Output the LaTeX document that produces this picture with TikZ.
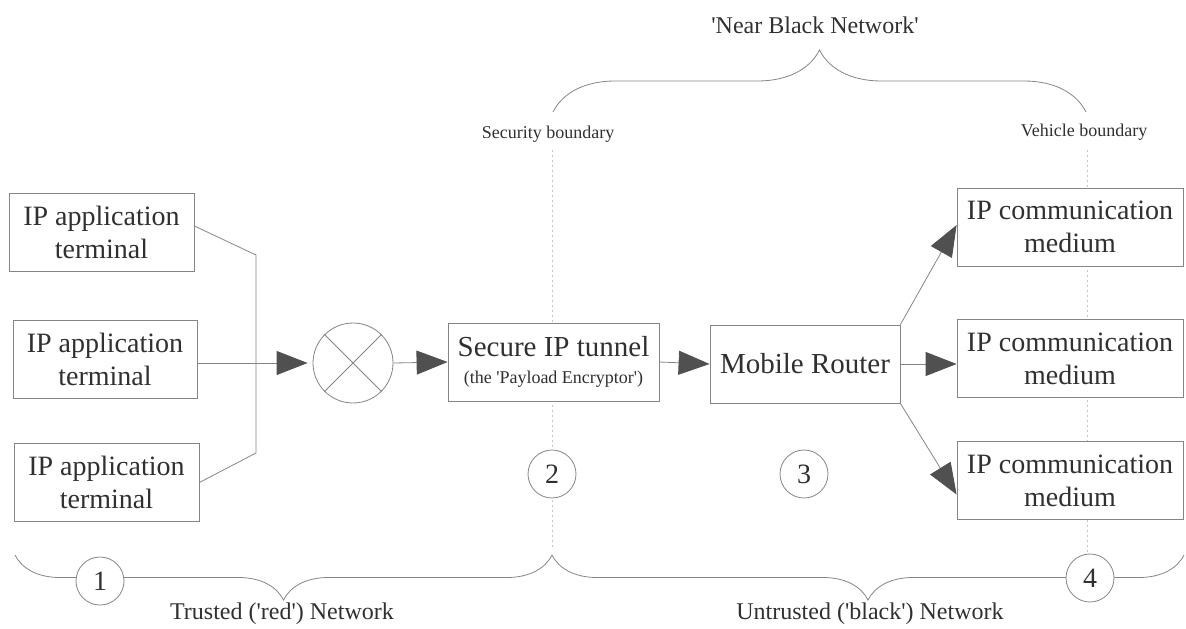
\documentclass[tikz,border=0pt]{standalone}
\usepackage{fontspec}
\setmainfont{Liberation Serif}
\usetikzlibrary{arrows.meta,decorations.pathreplacing,calc}
\definecolor{ink}{HTML}{303030}
\definecolor{wire}{HTML}{858585}
\definecolor{tipfill}{HTML}{505050}
\definecolor{dotline}{HTML}{C4C4C4}

\begin{document}
\begin{tikzpicture}[x=1pt,y=-1pt,
  every node/.style={text=ink},
  blk/.style={draw=wire,line width=0.8pt,fill=white,align=center,inner sep=0pt,
    minimum height=78pt},
  big/.style={font=\fontsize{28}{33}\selectfont},
  wirel/.style={draw=wire,line width=0.8pt},
  flow/.style={wirel,-{Triangle[length=31pt,width=24pt,color=tipfill,fill=tipfill]}},
  numc/.style={circle,draw=wire,line width=0.8pt,fill=white,minimum size=48pt,
    inner sep=0pt,font=\fontsize{28}{28}\selectfont},
  bracel/.style={draw=wire,line width=0.8pt,decorate},
  boundary/.style={draw=dotline,line width=0.8pt,dash pattern=on 2pt off 3pt},
  note/.style={inner sep=0pt}
]
\useasboundingbox (0,0) rectangle (1186,629);

% boundary lines (behind everything else)
\coordinate (sbTop) at (552,150);
\coordinate (sbBot) at (552,548);
\coordinate (vbTop) at (1087,150);
\coordinate (vbBot) at (1087,556);
\draw[boundary] (sbTop) -- (sbBot);
\draw[boundary] (vbTop) -- (vbBot);

% braces
\coordinate (bL) at (15,555);
\coordinate (bM) at (552,555);
\coordinate (bR) at (1184,555);
\coordinate (tL) at (553,112);
\coordinate (tR) at (1086,112);
\draw[bracel,decoration={brace,mirror,amplitude=45pt}] (bL) -- (bM);
\draw[bracel,decoration={brace,mirror,amplitude=45pt}] (bM) -- (bR);
\draw[bracel,decoration={brace,amplitude=62pt}] (tL) -- (tR);

% application terminals
\node[blk,big,minimum width=185pt] (app1) at (101.5,232) {IP application\\terminal};
\node[blk,big,minimum width=184pt] (app2) at (105,359.5) {IP application\\terminal};
\node[blk,big,minimum width=185pt] (app3) at (106.5,482.5) {IP application\\terminal};

% multiplexer
\node[circle,draw=wire,line width=0.8pt,fill=white,minimum size=80pt,inner sep=0pt] (mux) at (353,363) {};
\draw[wirel] (mux.45) -- (mux.225);
\draw[wirel] (mux.135) -- (mux.315);

% tunnel and router
\node[blk,minimum width=211pt,font=\fontsize{29}{27}\selectfont] (tun) at (553.5,362)
  {Secure IP tunnel\\
   \fontsize{18}{27}\selectfont (the \textquotesingle Payload Encryptor\textquotesingle)};
\node[blk,minimum width=190pt,font=\fontsize{29}{29}\selectfont] (rtr) at (805,364) {Mobile Router};

% communication media
\node[blk,big,minimum width=226pt] (com1) at (1070,227) {IP communication\\medium};
\node[blk,big,minimum width=226pt] (com2) at (1070,358.5) {IP communication\\medium};
\node[blk,big,minimum width=226pt] (com3) at (1070,480.5) {IP communication\\medium};

% terminal connections
\coordinate (jt) at (256,255);
\coordinate (jb) at (256,453);
\draw[wirel] ($(app1.east)+(0,-6)$) -- (jt) -- (jb) -- (app3.east);
\draw[flow,shorten >=5pt] (app2.east |- mux.west) -- (mux.west);
\draw[flow] (mux.east) -- (tun.west);
\draw[flow] (tun.east) -- (rtr.west);

% router fan-out
\draw[flow] (rtr.north east) -- ($(com1.west)+(0,-2)$);
\draw[flow] (rtr.east) -- (rtr.east -| com2.west);
\draw[flow] (rtr.south east) -- ($(com3.west)+(0,14)$);

% numbered markers
\node[numc] (n1) at (100,581) {1};
\node[numc] (n2) at (552,474) {2};
\node[numc] (n3) at (804,474) {3};
\node[numc] (n4) at (1090,578) {4};

% labels
\node[note,font=\fontsize{24}{24}\selectfont] (nbn) at (815,25)
  {\textquotesingle Near Black Network\textquotesingle};
\node[note,font=\fontsize{18}{18}\selectfont] (sb) at (548,134) {Security boundary};
\node[note,font=\fontsize{18}{18}\selectfont] (vb) at (1084,132) {Vehicle boundary};
\node[note,font=\fontsize{24}{24}\selectfont] (trn) at (282,614)
  {Trusted (\textquotesingle red\textquotesingle) Network};
\node[note,font=\fontsize{24}{24}\selectfont] (utn) at (870,614)
  {Untrusted (\textquotesingle black\textquotesingle) Network};
\end{tikzpicture}
\end{document}
